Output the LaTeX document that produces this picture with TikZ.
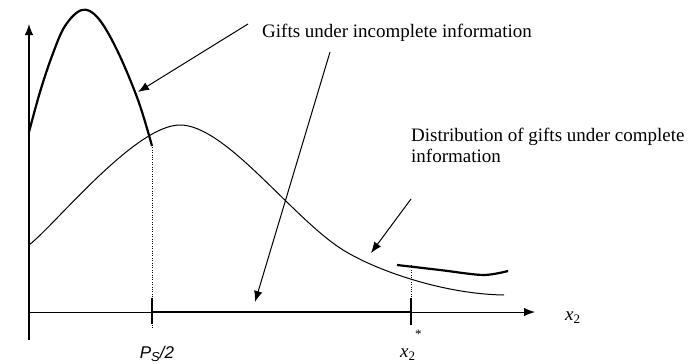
\documentclass[tikz,border=0pt]{standalone}
\usepackage{fontspec}
\setmainfont{Liberation Serif}
\newfontfamily\arialfont{Liberation Sans}
\usetikzlibrary{arrows.meta}
\tikzset{
  tip/.style={-{Latex[length=11pt,width=8.5pt]}},
  lbl/.style={font=\fontsize{19}{21}\selectfont, inner sep=0pt, align=left},
  thickcurve/.style={line width=2.2pt},
  thincurve/.style={line width=1pt},
}
\begin{document}
\begin{tikzpicture}[x=1pt,y=-1pt]
          \useasboundingbox (0,0) rectangle (691,364);
          %\draw[very thin,lightgray] (0,0) grid[step=50] (691,364);
          \coordinate (O) at (29,312);
          \coordinate (ytop) at (29,24);
          \coordinate (ybot) at (29,340);
          \coordinate (xend) at (535,312);
          \coordinate (p) at (152,312);
          \coordinate (q) at (411,312);
          \draw[line width=1.2pt,tip] (ybot)--(ytop);
          \draw[line width=1pt,tip] (O)--(xend);
          \draw[line width=2.6pt] (p)--(q);
          \draw[line width=2.4pt] ([yshift=14pt]p)--([yshift=-12pt]p);
          \draw[line width=2.4pt] ([yshift=14pt]q)--([yshift=-13pt]q);
          \draw[dotted] (152,145)--([yshift=-16pt]p);
          \draw[dotted] (411,265)--(q);
          % curves
          \draw[thickcurve] plot[smooth,tension=0.6] coordinates {%
            (29,132) (40,92) (52,56) (65,26) (82,10) (98,18) (117,50) (138,100) (152,146)};
          \draw[thincurve] (29,245) .. controls (55,225) and (135,125) .. (180,125)
            .. controls (225,125) and (290,215) .. (340,248)
            .. controls (370,268) and (440,294) .. (504,295);
          \draw[thickcurve] plot[smooth] coordinates {%
            (397,265) (440,270) (483,275) (508,271)};
          % labels
          \node[lbl,anchor=base west] (inc) at (262,37) {Gifts under incomplete information};
          \node[lbl,anchor=base west] (com) at (411,162) {Distribution of gifts under complete\\information};
          \node[anchor=base,inner sep=0pt,font=\arialfont\fontsize{17}{19}\selectfont] (ps) at (157,358)
            {\itshape P\raisebox{-0.35ex}{\fontsize{13}{14}\selectfont S}/2};
          \node[anchor=base west,inner sep=0pt,font=\fontsize{19}{20}\selectfont] (xs) at (400,357)
            {\itshape x\upshape\raisebox{-0.4ex}{\fontsize{13}{14}\selectfont 2}\raisebox{2.1ex}{\fontsize{13}{14}\selectfont *}};
          \node[anchor=base west,inner sep=0pt,font=\fontsize{19}{20}\selectfont] (xl) at (565,320)
            {\itshape x\upshape\raisebox{-0.4ex}{\fontsize{13}{14}\selectfont 2}};
          % arrows
          \coordinate (a1) at (248,24);
          \coordinate (a1e) at (138,92);
          \coordinate (a2) at (330,52);
          \coordinate (a2e) at (255,302);
          \coordinate (a3) at (411,199);
          \coordinate (a3e) at (371,253);
          \draw[thincurve,tip] (a1)--(a1e);
          \draw[thincurve,tip] (a2)--(a2e);
          \draw[thincurve,tip] (a3)--(a3e);
        \end{tikzpicture}
\end{document}
